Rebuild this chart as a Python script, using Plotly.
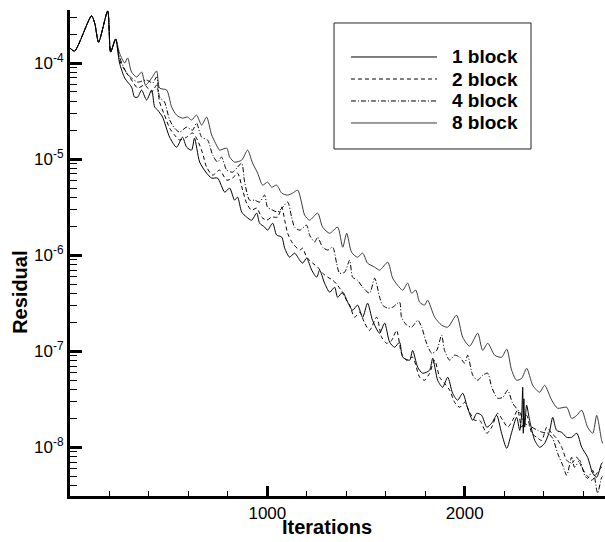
import plotly.graph_objects as go

# ---------------- data ----------------
series_names = ["1 block", "2 block", "4 block", "8 block"]

iter_1 = [0, 23, 109, 125, 145, 191, 206, 231, 251, 277, 292, 312, 327, 343, 363, 388, 414, 429, 444, 469,
          505, 540, 570, 591, 616, 631, 657, 692, 718, 748, 784, 809, 834, 849, 870, 895, 920, 946, 961, 986,
          1001, 1027, 1047, 1073, 1088, 1113, 1138, 1164, 1179, 1199, 1225, 1250, 1265, 1290, 1316, 1341, 1356,
          1382, 1407, 1432, 1457, 1483, 1508, 1533, 1569, 1594, 1620, 1645, 1670, 1686, 1721, 1736, 1762, 1787,
          1822, 1838, 1863, 1888, 1914, 1939, 1964, 1990, 2015, 2041, 2061, 2086, 2112, 2137, 2162, 2187, 2213,
          2238, 2263, 2279, 2289, 2294, 2297, 2300, 2304, 2314, 2329, 2355, 2380, 2405, 2431, 2446, 2466, 2492,
          2517, 2542, 2568, 2593, 2623, 2649, 2669, 2694, 2699]
resid_1 = [1.43e-4, 1.33e-4, 3.09e-4, 2.61e-4, 1.65e-4, 3.48e-4, 1.30e-4, 1.78e-4, 1.00e-4, 6.98e-5, 6.34e-5,
           5.62e-5, 4.42e-5, 4.42e-5, 5.23e-5, 4.12e-5, 5.23e-5, 3.48e-5, 3.24e-5, 2.74e-5, 1.69e-5, 1.33e-5,
           1.69e-5, 1.33e-5, 1.24e-5, 1.65e-5, 9.31e-6, 7.15e-6, 6.34e-6, 6.34e-6, 4.53e-6, 4.99e-6, 3.74e-6,
           4.02e-6, 2.81e-6, 2.49e-6, 2.31e-6, 2.74e-6, 2.15e-6, 1.96e-6, 1.82e-6, 2.15e-6, 1.62e-6, 1.54e-6,
           1.18e-6, 9.53e-7, 1.05e-6, 8.87e-7, 8.25e-7, 9.31e-7, 6.98e-7, 5.90e-7, 6.98e-7, 5.11e-7, 4.12e-7,
           4.64e-7, 3.65e-7, 4.12e-7, 3.24e-7, 2.67e-7, 3.02e-7, 2.26e-7, 3.16e-7, 2.10e-7, 1.54e-7, 1.96e-7,
           1.24e-7, 1.10e-7, 1.24e-7, 8.66e-8, 8.06e-8, 1.02e-7, 6.81e-8, 5.90e-8, 6.34e-8, 8.45e-8, 4.99e-8,
           4.22e-8, 5.36e-8, 3.65e-8, 3.09e-8, 3.65e-8, 2.55e-8, 1.91e-8, 2.26e-8, 2.15e-8, 1.62e-8, 1.78e-8,
           2.15e-8, 1.40e-8, 9.76e-9, 1.43e-8, 2.05e-8, 1.50e-8, 2.26e-8, 4.22e-8, 1.40e-8, 3.20e-8, 1.62e-8,
           2.74e-8, 1.91e-8, 1.18e-8, 1.00e-8, 1.10e-8, 1.50e-8, 2.05e-8, 1.50e-8, 1.43e-8, 1.27e-8, 1.27e-8,
           1.40e-8, 1.00e-8, 7.87e-9, 5.36e-9, 4.87e-9, 6.81e-9, 6.90e-9]

iter_2 = [0, 23, 109, 125, 145, 191, 206, 231, 251, 277, 312, 343, 378, 414, 439, 454, 479, 505, 530, 555,
          591, 621, 646, 672, 692, 723, 758, 794, 824, 849, 875, 895, 920, 946, 971, 996, 1022, 1052, 1073,
          1088, 1103, 1128, 1164, 1179, 1199, 1230, 1255, 1280, 1306, 1331, 1356, 1382, 1392, 1417, 1442, 1468,
          1493, 1518, 1554, 1579, 1604, 1630, 1655, 1680, 1706, 1736, 1772, 1797, 1822, 1848, 1873, 1898, 1924,
          1949, 1975, 2000, 2025, 2051, 2076, 2112, 2137, 2167, 2193, 2218, 2243, 2268, 2289, 2314, 2340, 2365,
          2390, 2416, 2441, 2466, 2492, 2517, 2542, 2568, 2593, 2618, 2644, 2669, 2694, 2699]
resid_2 = [1.43e-4, 1.33e-4, 3.09e-4, 2.61e-4, 1.65e-4, 3.48e-4, 1.30e-4, 1.78e-4, 1.07e-4, 8.45e-5, 6.65e-5,
           5.49e-5, 5.90e-5, 4.99e-5, 5.90e-5, 3.93e-5, 2.87e-5, 2.10e-5, 1.78e-5, 1.58e-5, 1.69e-5, 1.87e-5,
           1.58e-5, 1.15e-5, 8.25e-6, 6.81e-6, 7.68e-6, 6.04e-6, 6.34e-6, 7.15e-6, 4.75e-6, 3.48e-6, 2.94e-6,
           3.09e-6, 2.49e-6, 2.31e-6, 2.49e-6, 2.49e-6, 3.16e-6, 2.31e-6, 1.69e-6, 1.33e-6, 1.13e-6, 1.18e-6,
           9.53e-7, 8.25e-7, 7.50e-7, 6.49e-7, 5.90e-7, 5.49e-7, 4.87e-7, 4.02e-7, 3.65e-7, 3.02e-7, 2.26e-7,
           2.55e-7, 1.96e-7, 1.65e-7, 2.26e-7, 1.40e-7, 1.21e-7, 1.30e-7, 1.65e-7, 9.53e-8, 8.06e-8, 8.66e-8,
           5.36e-8, 4.99e-8, 5.90e-8, 8.06e-8, 5.36e-8, 4.64e-8, 3.93e-8, 2.94e-8, 2.61e-8, 2.94e-8, 2.31e-8,
           1.91e-8, 1.91e-8, 1.40e-8, 1.62e-8, 2.26e-8, 1.91e-8, 1.62e-8, 1.91e-8, 2.43e-8, 1.62e-8, 2.15e-8,
           1.40e-8, 1.27e-8, 1.18e-8, 1.62e-8, 1.40e-8, 1.24e-8, 1.00e-8, 7.32e-9, 6.81e-9, 7.87e-9, 6.19e-9,
           5.11e-9, 4.53e-9, 5.36e-9, 6.19e-9, 6.00e-9]

iter_4 = [0, 23, 109, 125, 145, 191, 206, 231, 251, 287, 312, 343, 388, 419, 439, 454, 479, 505, 530, 555,
          591, 621, 641, 667, 697, 723, 748, 768, 794, 824, 849, 870, 885, 910, 935, 961, 986, 1001, 1027, 1052,
          1078, 1103, 1123, 1138, 1164, 1199, 1214, 1240, 1255, 1280, 1306, 1331, 1351, 1366, 1392, 1417, 1432,
          1457, 1483, 1518, 1544, 1569, 1584, 1610, 1635, 1670, 1680, 1706, 1731, 1762, 1782, 1807, 1833, 1858,
          1883, 1898, 1924, 1949, 1975, 2000, 2015, 2041, 2066, 2091, 2117, 2137, 2167, 2193, 2218, 2243, 2279,
          2304, 2340, 2370, 2395, 2421, 2446, 2471, 2497, 2517, 2542, 2557, 2583, 2608, 2623, 2649, 2669, 2674,
          2694, 2699]
resid_4 = [1.43e-4, 1.33e-4, 3.09e-4, 2.61e-4, 1.65e-4, 3.48e-4, 1.30e-4, 1.78e-4, 1.15e-4, 7.87e-5, 6.98e-5,
           6.34e-5, 6.65e-5, 6.19e-5, 7.15e-5, 4.42e-5, 3.93e-5, 2.55e-5, 2.10e-5, 1.91e-5, 2.15e-5, 2.00e-5,
           2.37e-5, 1.69e-5, 1.58e-5, 1.10e-5, 9.31e-6, 1.05e-5, 7.68e-6, 7.32e-6, 8.25e-6, 9.09e-6, 5.76e-6,
           3.74e-6, 3.74e-6, 3.57e-6, 4.22e-6, 3.16e-6, 2.94e-6, 2.81e-6, 3.16e-6, 3.57e-6, 2.49e-6, 1.96e-6,
           1.82e-6, 2.05e-6, 1.62e-6, 1.37e-6, 1.54e-6, 1.21e-6, 1.13e-6, 1.21e-6, 8.25e-7, 6.49e-7, 6.65e-7,
           8.87e-7, 5.90e-7, 5.49e-7, 4.64e-7, 4.02e-7, 5.76e-7, 3.65e-7, 3.02e-7, 2.81e-7, 2.87e-7, 3.24e-7,
           2.26e-7, 1.87e-7, 1.78e-7, 2.10e-7, 1.78e-7, 1.21e-7, 9.53e-8, 1.02e-7, 1.47e-7, 1.02e-7, 8.06e-8,
           9.09e-8, 8.66e-8, 7.50e-8, 9.09e-8, 5.62e-8, 4.99e-8, 5.62e-8, 5.90e-8, 4.22e-8, 3.24e-8, 3.32e-8,
           3.93e-8, 2.87e-8, 2.31e-8, 1.78e-8, 1.62e-8, 1.50e-8, 1.43e-8, 1.40e-8, 1.24e-8, 8.66e-9, 6.49e-9,
           5.11e-9, 7.87e-9, 6.19e-9, 7.32e-9, 5.11e-9, 4.75e-9, 5.76e-9, 3.57e-9, 3.32e-9, 4.87e-9, 5.00e-9]

iter_8 = [0, 23, 109, 125, 145, 191, 206, 231, 251, 277, 292, 312, 338, 363, 383, 414, 439, 454, 490, 515,
          540, 570, 595, 616, 641, 667, 692, 718, 748, 758, 794, 809, 834, 870, 900, 925, 951, 976, 1001, 1022,
          1047, 1073, 1103, 1128, 1154, 1174, 1189, 1214, 1255, 1280, 1316, 1356, 1382, 1402, 1427, 1457, 1483,
          1508, 1544, 1569, 1610, 1635, 1660, 1686, 1711, 1731, 1752, 1772, 1797, 1812, 1848, 1883, 1914, 1959,
          1990, 2025, 2066, 2091, 2117, 2152, 2187, 2213, 2238, 2263, 2289, 2314, 2345, 2380, 2405, 2441, 2471,
          2517, 2542, 2568, 2593, 2623, 2649, 2669, 2694, 2699]
resid_8 = [1.43e-4, 1.33e-4, 3.09e-4, 2.61e-4, 1.65e-4, 3.48e-4, 1.30e-4, 1.78e-4, 1.27e-4, 1.00e-4, 1.13e-4,
           8.06e-5, 7.15e-5, 8.06e-5, 5.90e-5, 6.98e-5, 8.25e-5, 5.49e-5, 5.23e-5, 3.48e-5, 2.87e-5, 2.67e-5,
           2.74e-5, 2.55e-5, 2.87e-5, 2.26e-5, 2.74e-5, 1.78e-5, 1.33e-5, 1.24e-5, 1.30e-5, 1.05e-5, 9.31e-6,
           9.76e-6, 1.24e-5, 9.09e-6, 7.15e-6, 5.36e-6, 5.76e-6, 5.11e-6, 5.36e-6, 4.42e-6, 4.22e-6, 4.42e-6,
           4.75e-6, 3.48e-6, 2.61e-6, 2.31e-6, 2.74e-6, 1.96e-6, 1.69e-6, 1.96e-6, 1.21e-6, 1.69e-6, 1.07e-6,
           9.53e-7, 1.05e-6, 8.25e-7, 7.50e-7, 6.98e-7, 8.45e-7, 5.76e-7, 4.87e-7, 4.32e-7, 5.11e-7, 4.02e-7,
           4.32e-7, 3.24e-7, 3.02e-7, 3.40e-7, 2.26e-7, 1.87e-7, 1.78e-7, 2.37e-7, 1.40e-7, 1.13e-7, 1.54e-7,
           1.02e-7, 1.21e-7, 9.09e-8, 8.66e-8, 1.05e-7, 6.34e-8, 4.99e-8, 5.23e-8, 6.65e-8, 4.42e-8, 3.74e-8,
           4.42e-8, 3.09e-8, 2.55e-8, 2.61e-8, 2.00e-8, 2.15e-8, 2.43e-8, 1.62e-8, 1.40e-8, 2.15e-8, 1.18e-8,
           1.10e-8]

x_tick_values = [1000, 2000]
x_tick_labels = ["1000", "2000"]
y_tick_values = [1e-8, 1e-7, 1e-6, 1e-5, 1e-4]
y_tick_labels = ["10<sup>-8</sup>", "10<sup>-7</sup>", "10<sup>-6</sup>", "10<sup>-5</sup>", "10<sup>-4</sup>"]

# ---------------- styling ----------------
FONT = "Liberation Sans, Arial, Helvetica, sans-serif"
styles = {
    "1 block": dict(color="black", width=1, dash="solid"),
    "2 block": dict(color="black", width=1, dash="4px,3px"),
    "4 block": dict(color="black", width=1, dash="5px,2px,1px,2px"),
    "8 block": dict(color="#3a3a3a", width=1, dash="solid"),
}
data = {
    "1 block": (iter_1, resid_1),
    "2 block": (iter_2, resid_2),
    "4 block": (iter_4, resid_4),
    "8 block": (iter_8, resid_8),
}

fig = go.Figure()
for name in ["8 block", "4 block", "2 block", "1 block"]:
    xs, ys = data[name]
    fig.add_trace(go.Scatter(x=xs, y=ys, mode="lines", name=name,
                             line=dict(**styles[name], shape="spline", smoothing=0.7),
                             showlegend=False))

minor_x = [v for v in range(200, 2800, 200) if v not in (1000, 2000)]
minor_y = [k * 10.0 ** e for e in range(-9, -3) for k in range(2, 10)]

fig.update_layout(
    width=605, height=542,
    margin=dict(l=70, r=0, t=10, b=46),
    plot_bgcolor="white", paper_bgcolor="white",
    showlegend=False,
    font=dict(family=FONT, color="black"),
    xaxis=dict(
        range=[0, 2711], showline=True, linewidth=3, linecolor="black", mirror=False,
        showgrid=False, zeroline=False,
        ticks="inside", tickmode="array", tickvals=x_tick_values, ticktext=x_tick_labels,
        ticklen=10, tickwidth=2.5, tickcolor="black",
        tickfont=dict(family=FONT, size=17, color="black"),
        minor=dict(tickmode="array", tickvals=minor_x, ticks="inside", ticklen=5, tickwidth=1,
                   tickcolor="black", showgrid=False),
    ),
    yaxis=dict(
        type="log", range=[-8.507, -3.448], showline=True, linewidth=3, linecolor="black",
        showgrid=False, zeroline=False,
        ticks="inside", tickmode="array", tickvals=y_tick_values, ticktext=y_tick_labels,
        ticklen=12, tickwidth=3, tickcolor="black",
        tickfont=dict(family=FONT, size=17, color="black"),
        minor=dict(tickmode="array", tickvals=minor_y, ticks="inside", ticklen=7, tickwidth=1,
                   tickcolor="black", showgrid=False),
    ),
)

# axis titles
fig.add_annotation(text="<b>Iterations</b>", xref="paper", yref="paper", x=0.480, y=-0.0638,
                   xanchor="center", yanchor="middle", showarrow=False,
                   font=dict(family=FONT, size=20, color="black"))
fig.add_annotation(text="<b>Residual</b>", xref="paper", yref="paper", x=-0.0935, y=0.42,
                   xanchor="center", yanchor="middle", showarrow=False, textangle=-90,
                   font=dict(family=FONT, size=20, color="black"))

# legend box (drawn to match the reference's framed legend)
fig.add_shape(type="rect", xref="paper", yref="paper", x0=0.4935, x1=0.8617, y0=0.714, y1=0.9733,
              line=dict(color="#222222", width=1), fillcolor="white", layer="above")
legend_rows_y = [0.9033, 0.858, 0.8128, 0.7675]
for name, ly in zip(series_names, legend_rows_y):
    fig.add_shape(type="line", xref="paper", yref="paper", x0=0.5252, x1=0.686, y0=ly, y1=ly,
                  line=styles[name], layer="above")
    fig.add_annotation(text="<b>%s</b>" % name, xref="paper", yref="paper", x=0.7103, y=ly,
                       xanchor="left", yanchor="middle", showarrow=False,
                       font=dict(family=FONT, size=19, color="black"))

fig.write_html("out.html", config={"displayModeBar": False},
               post_script="document.body.style.margin='0';document.body.style.overflow='hidden';")
